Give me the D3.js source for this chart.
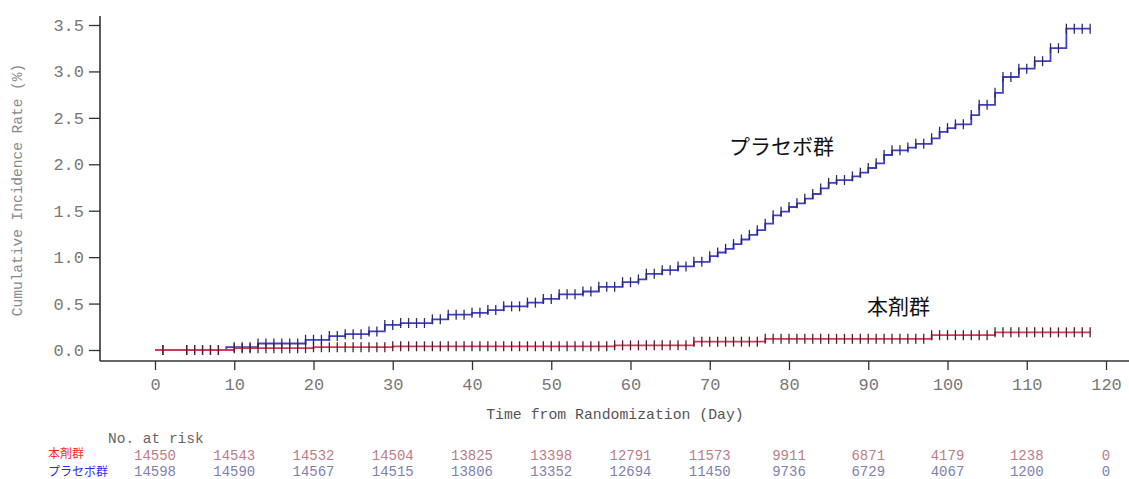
<!DOCTYPE html>
<html>
<head>
<meta charset="utf-8">
<script src="https://cdn.jsdelivr.net/npm/d3@7"></script>
<style>
  body { margin: 0; background: #fff; }
  svg { display: block; }
  .mono { font-family: "Liberation Mono", "DejaVu Sans Mono", monospace; }
</style>
</head>
<body>
<svg id="chart" width="1129" height="479"></svg>
<script>
// 累積発症率のデータ
// [日, 累積発症率(%)] の階段関数の変化点
const drugSteps = [
  [0, 0], [10, 0.02], [20, 0.03], [30, 0.04], [58, 0.05], [68, 0.09],
  [77, 0.12], [98, 0.16], [106, 0.19], [118, 0.19]
];
const placeboSteps = [
  [0, 0], [9, 0.03], [13, 0.07], [19, 0.11], [22, 0.15], [24, 0.17], [27, 0.20],
  [29, 0.27], [31, 0.29], [35, 0.33], [37, 0.38], [40, 0.40], [42, 0.43], [44, 0.47],
  [47, 0.51], [49, 0.55], [51, 0.60], [54, 0.63], [56, 0.68], [59, 0.73], [61, 0.76],
  [62, 0.82], [64, 0.86], [66, 0.90], [68, 0.95], [70, 1.01], [71, 1.05], [72, 1.09],
  [73, 1.14], [74, 1.19], [75, 1.24], [76, 1.29], [77, 1.36], [78, 1.45], [79, 1.49],
  [80, 1.54], [81, 1.58], [82, 1.63], [83, 1.68], [84, 1.74], [85, 1.80], [86, 1.83],
  [88, 1.87], [89, 1.91], [90, 1.96], [91, 2.01], [92, 2.10], [93, 2.15], [95, 2.18],
  [96, 2.22], [98, 2.28], [99, 2.35], [100, 2.39], [101, 2.43], [103, 2.53], [104, 2.64],
  [106, 2.77], [107, 2.94], [109, 3.03], [111, 3.11], [113, 3.25], [115, 3.46], [118, 3.46]
];
// 打ち切りマーク（日）
const censorDays = [
  1, 4, 5, 6, 7, 8, 10, 11, 12, 13, 14, 15, 16, 17, 18, 19, 20, 21, 22, 23, 24, 25,
  26, 27, 28, 29, 30, 31, 32, 33, 34, 35, 36, 37, 38, 39, 40, 41, 42, 43, 44, 45, 46,
  47, 48, 49, 50, 51, 52, 53, 54, 55, 56, 57, 58, 59, 60, 61, 62, 63, 64, 65, 66, 67,
  68, 69, 70, 71, 72, 73, 74, 75, 76, 77, 78, 79, 80, 81, 82, 83, 84, 85, 86, 87, 88,
  89, 90, 91, 92, 93, 94, 95, 96, 97, 98, 99, 100, 101, 102, 103, 104, 105, 106, 107,
  108, 109, 110, 111, 112, 113, 114, 115, 116, 117, 118
];
const xTicks = [0, 10, 20, 30, 40, 50, 60, 70, 80, 90, 100, 110, 120];
const yTicks = [0, 0.5, 1.0, 1.5, 2.0, 2.5, 3.0, 3.5];
const riskDays = [0, 10, 20, 30, 40, 50, 60, 70, 80, 90, 100, 110, 120];
const riskDrug = [14550, 14543, 14532, 14504, 13825, 13398, 12791, 11573, 9911, 6871, 4179, 1238, 0];
const riskPlacebo = [14598, 14590, 14567, 14515, 13806, 13352, 12694, 11450, 9736, 6729, 4067, 1200, 0];

const svg = d3.select("#chart");

const x = d3.scaleLinear().domain([0, 120]).range([155, 1106]);
const y = d3.scaleLinear().domain([0, 3.5]).range([350, 25]);

// 軸
const yAxis = svg.append("g")
  .attr("transform", "translate(100,0)")
  .call(d3.axisLeft(y).tickValues(yTicks).tickFormat(d3.format(".1f")).tickSize(11).tickPadding(5));
const xAxis = svg.append("g")
  .attr("transform", "translate(0,361)")
  .call(d3.axisBottom(x).tickValues(xTicks).tickSize(9).tickPadding(8));

[yAxis, xAxis].forEach(a => {
  a.select(".domain").remove();
  a.selectAll("line").attr("stroke", "#333").attr("stroke-width", 1.3);
  a.selectAll("text")
    .attr("class", "mono")
    .attr("font-size", 17)
    .attr("fill", "#777");
});

svg.append("line").attr("x1", 100).attr("x2", 1129).attr("y1", 361).attr("y2", 361)
  .attr("stroke", "#333").attr("stroke-width", 1.6);
svg.append("line").attr("x1", 100).attr("x2", 100).attr("y1", 16).attr("y2", 361)
  .attr("stroke", "#333").attr("stroke-width", 1.6);

svg.append("text")
  .attr("class", "mono")
  .attr("transform", "translate(22,190) rotate(-90)")
  .attr("text-anchor", "middle")
  .attr("font-size", 14.5)
  .attr("fill", "#888")
  .text("Cumulative Incidence Rate (%)");

svg.append("text")
  .attr("class", "mono")
  .attr("x", 615).attr("y", 419)
  .attr("text-anchor", "middle")
  .attr("font-size", 14.8)
  .attr("fill", "#555")
  .text("Time from Randomization (Day)");

// 階段線
const stepLine = d3.line().x(d => x(d[0])).y(d => y(d[1])).curve(d3.curveStepAfter);

function stepValue(steps, day) {
  let v = 0;
  steps.forEach(s => { if (s[0] <= day) v = s[1]; });
  return v;
}

function drawCurve(steps, color, markColor) {
  const days = censorDays.filter(dd => dd <= steps[steps.length - 1][0]);
  svg.append("path")
    .datum(steps)
    .attr("fill", "none")
    .attr("stroke", color)
    .attr("stroke-width", 1.8)
    .attr("d", stepLine);
  svg.append("g").selectAll("line")
    .data(days)
    .enter()
    .append("line")
    .attr("x1", d => x(d)).attr("x2", d => x(d))
    .attr("y1", d => y(stepValue(steps, d)) - 5)
    .attr("y2", d => y(stepValue(steps, d)) + 5)
    .attr("stroke", markColor)
    .attr("stroke-width", 1.3);
}

drawCurve(placeboSteps, "#4040c4", "#2a2a70");
drawCurve(drugSteps, "#d23a5a", "#5a1a2a");

// 群ラベル
const cjk = '"Noto Sans CJK JP", "Noto Sans", sans-serif';
svg.append("text").attr("x", 729).attr("y", 154)
  .attr("font-family", cjk).attr("font-size", 21).attr("fill", "#111").text("プラセボ群");
svg.append("text").attr("x", 867).attr("y", 314)
  .attr("font-family", cjk).attr("font-size", 21).attr("fill", "#111").text("本剤群");

// No. at risk
svg.append("text")
  .attr("class", "mono")
  .attr("x", 108).attr("y", 443)
  .attr("font-size", 14.5)
  .attr("fill", "#666")
  .text("No. at risk");

svg.append("text").attr("x", 48).attr("y", 458)
  .attr("font-family", cjk).attr("font-size", 12).attr("fill", "#ff2a2a").text("本剤群");
svg.append("text").attr("x", 48).attr("y", 476)
  .attr("font-family", cjk).attr("font-size", 12).attr("fill", "#2a2aff").text("プラセボ群");

svg.append("g").selectAll("text")
  .data(riskDrug)
  .enter()
  .append("text")
  .attr("class", "mono")
  .attr("x", (d, i) => x(riskDays[i]))
  .attr("y", 460)
  .attr("text-anchor", "middle")
  .attr("font-size", 14)
  .attr("fill", "#c07a88")
  .text(d => d);

svg.append("g").selectAll("text")
  .data(riskPlacebo)
  .enter()
  .append("text")
  .attr("class", "mono")
  .attr("x", (d, i) => x(riskDays[i]))
  .attr("y", 476)
  .attr("text-anchor", "middle")
  .attr("font-size", 14)
  .attr("fill", "#8080b0")
  .text(d => d);
</script>
</body>
</html>
